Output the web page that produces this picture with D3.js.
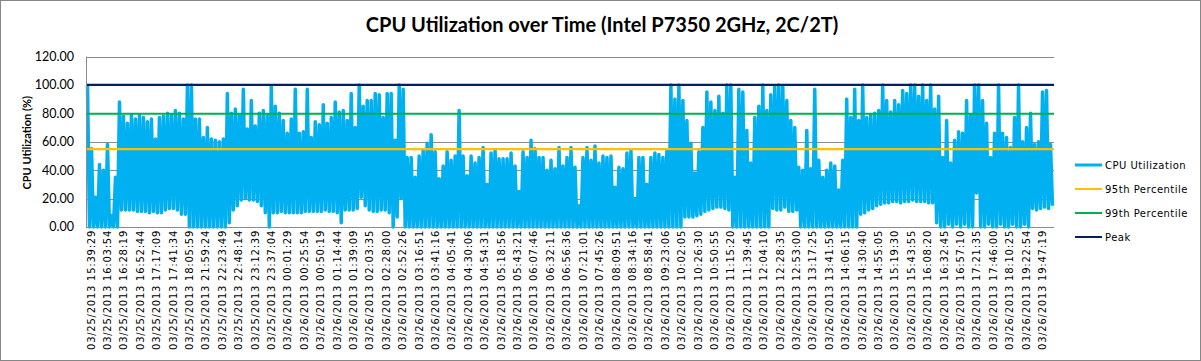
<!DOCTYPE html>
<html>
<head>
<meta charset="utf-8">
<script src="https://cdn.jsdelivr.net/npm/d3@7"></script>
<style>
  body { margin: 0; background: #fff; }
  svg { display: block; }
</style>
</head>
<body>
<div id="chart"></div>
<script>
// tick labels shown on the category axis
var timeLabels = [
    "03/25/2013 15:39:29", "03/25/2013 16:03:54", "03/25/2013 16:28:19", "03/25/2013 16:52:44",
    "03/25/2013 17:17:09", "03/25/2013 17:41:34", "03/25/2013 18:05:59", "03/25/2013 21:59:24",
    "03/25/2013 22:23:49", "03/25/2013 22:48:14", "03/25/2013 23:12:39", "03/25/2013 23:37:04",
    "03/26/2013 00:01:29", "03/26/2013 00:25:54", "03/26/2013 00:50:19", "03/26/2013 01:14:44",
    "03/26/2013 01:39:09", "03/26/2013 02:03:35", "03/26/2013 02:28:00", "03/26/2013 02:52:26",
    "03/26/2013 03:16:51", "03/26/2013 03:41:16", "03/26/2013 04:05:41", "03/26/2013 04:30:06",
    "03/26/2013 04:54:31", "03/26/2013 05:18:56", "03/26/2013 05:43:21", "03/26/2013 06:07:46",
    "03/26/2013 06:32:11", "03/26/2013 06:56:36", "03/26/2013 07:21:01", "03/26/2013 07:45:26",
    "03/26/2013 08:09:51", "03/26/2013 08:34:16", "03/26/2013 08:58:41", "03/26/2013 09:23:06",
    "03/26/2013 10:02:05", "03/26/2013 10:26:30", "03/26/2013 10:50:55", "03/26/2013 11:15:20",
    "03/26/2013 11:39:45", "03/26/2013 12:04:10", "03/26/2013 12:28:35", "03/26/2013 12:53:00",
    "03/26/2013 13:17:25", "03/26/2013 13:41:50", "03/26/2013 14:06:15", "03/26/2013 14:30:40",
    "03/26/2013 14:55:05", "03/26/2013 15:19:30", "03/26/2013 15:43:55", "03/26/2013 16:08:20",
    "03/26/2013 16:32:45", "03/26/2013 16:57:10", "03/26/2013 17:21:35", "03/26/2013 17:46:00",
    "03/26/2013 18:10:25", "03/26/2013 19:22:54", "03/26/2013 19:47:19"
];

var cpuHigh = [
    100, 55, 21, 44, 40, 58, 8, 35,
    88, 78, 73, 79, 76, 79, 77, 74, 76, 62, 77, 78, 80, 79, 82, 80, 76,
    100, 100, 76, 76, 63, 70, 62, 61, 60, 62,
    94, 80, 83, 79, 97, 69, 89, 71, 80, 82,
    79, 99, 85, 80, 75, 66, 76, 97, 66, 67,
    97, 63, 74, 72, 86, 73, 77, 88, 81, 82,
    75, 94, 70, 100, 85, 89, 89, 94, 93, 77,
    94, 94, 61, 100, 97,
    49, 49, 35, 50, 54, 59, 65, 53, 34, 43,
    53, 47, 50, 82, 50, 36, 50, 45, 49, 56,
    30, 52, 54, 48, 48, 48, 52, 43, 25, 53,
    49, 61, 55, 49, 49, 40, 47, 41, 56, 43,
    49, 56, 42, 15, 49, 56, 47, 57, 45, 50,
    49, 50, 28, 42, 41, 52, 54, 20, 49, 49,
    30, 49, 52, 51, 49, 54,
    100, 90, 100, 89, 75, 59, 38, 53, 70, 95,
    88, 82, 92, 80, 100, 100, 35, 97, 95, 68,
    45, 77, 85, 100, 82, 93, 99, 100, 99, 89,
    75, 70, 42, 40, 68, 41, 97, 47, 35, 40,
    45, 43, 26, 47, 90, 77, 97, 75, 100, 77,
    79, 80, 82, 100, 89, 81, 89, 86, 96, 94,
    100, 100, 92, 100, 89, 100, 83, 92, 49, 75,
    45, 61, 67, 66, 89, 79, 100, 100, 89, 73,
    49, 66, 100, 66, 63, 56, 77, 100, 60, 70,
    80, 58, 60, 95, 96, 58
];
var cpuLow = [
    0, 0, 0, 0, 0, 0, 0, 0,
    12, 12, 12, 12, 11, 11, 11, 10, 11, 10, 10, 12, 13, 13, 12, 9, 9,
    0, 0, 0, 0, 0, 0, 0, 0, 0, 0,
    3, 12, 15, 19, 20, 19, 19, 18, 15, 10,
    0, 10, 10, 11, 10, 10, 10, 10, 10, 11,
    11, 11, 11, 11, 12, 11, 11, 10, 3, 12,
    12, 12, 13, 21, 15, 12, 11, 11, 12, 12,
    10, 0, 7, 20, 0,
    0, 0, 0, 0, 0, 0, 0, 0, 0, 0,
    0, 0, 0, 0, 0, 0, 0, 0, 0, 0,
    0, 0, 0, 0, 0, 0, 0, 0, 0, 0,
    0, 0, 0, 0, 0, 0, 0, 0, 0, 0,
    0, 0, 0, 0, 0, 0, 0, 0, 0, 0,
    0, 0, 0, 0, 0, 0, 0, 0, 0, 0,
    0, 0, 0, 0, 0, 0,
    0, 0, 0, 7, 7, 7, 8, 9, 11, 12,
    13, 14, 14, 13, 12, 0, 0, 0, 0, 0,
    0, 0, 0, 0, 0, 13, 12, 12, 14, 11,
    11, 12, 0, 0, 0, 0, 0, 0, 0, 0,
    0, 0, 0, 0, 0, 0, 0, 9, 10, 12,
    13, 15, 16, 17, 17, 18, 18, 17, 18, 18,
    19, 18, 18, 18, 17, 17, 3, 0, 0, 2,
    0, 2, 0, 2, 0, 0, 24, 0, 0, 2,
    0, 0, 2, 0, 0, 2, 0, 0, 2, 0,
    13, 12, 13, 14, 13, 15
];

var p95 = 54.8;
var p99 = 79.7;
var peak = 100;
var yTicks = [0, 20, 40, 60, 80, 100, 120];

var seriesNames = ["CPU Utilization", "95th Percentile", "99th Percentile", "Peak"];
var seriesColours = ["#00b0f0", "#ffc000", "#00b050", "#002060"];

var width = 1201;
var height = 361;
var margin = {top: 56.5, right: 147, bottom: 134, left: 86};

var svg = d3.select("#chart")
    .append("svg")
    .attr("width", width)
    .attr("height", height);

// outer chart border
svg.append("rect")
    .attr("x", 0.5).attr("y", 0.5)
    .attr("width", width - 1).attr("height", height - 1)
    .style("fill", "#fff")
    .style("stroke", "#868686");

var y = d3.scaleLinear()
    .domain([0, 120])
    .range([height - margin.bottom, margin.top]);

// interleave highs and lows into one dense sample list
var samples = [];
cpuHigh.forEach(function(h, i) {
    samples.push(h);
    samples.push(cpuLow[i]);
});

var x = d3.scaleLinear()
    .domain([0, samples.length - 1])
    .range([margin.left + 1.5, width - margin.right - 1.5]);

var xBand = d3.scaleBand()
    .domain(timeLabels)
    .range([margin.left, width - margin.right]);

// gridlines
svg.append("g")
    .selectAll("line")
    .data(yTicks.slice(1))
    .enter().append("line")
    .attr("x1", margin.left)
    .attr("x2", width - margin.right)
    .attr("y1", function(d) { return Math.round(y(d)) + 0.5; })
    .attr("y2", function(d) { return Math.round(y(d)) + 0.5; })
    .style("stroke", "#8c8c8c")
    .style("stroke-width", 1);

// y axis labels
svg.append("g")
    .selectAll("text")
    .data(yTicks)
    .enter().append("text")
    .attr("x", 74)
    .attr("y", function(d) { return y(d); })
    .attr("dy", "0.35em")
    .attr("text-anchor", "end")
    .style("font-family", "Lato, sans-serif")
    .style("font-size", "12.5px")
    .style("fill", "#000")
    .text(function(d) { return d3.format(".2f")(d); });

svg.append("text")
    .attr("transform", "translate(31," + ((margin.top + height - margin.bottom) / 2 + 1) + ") rotate(-90)")
    .attr("text-anchor", "middle")
    .style("font-family", "Lato, sans-serif")
    .style("font-weight", "bold")
    .style("font-size", "11px")
    .text("CPU Utilization  (%)");

// CPU series
var line = d3.line()
    .x(function(d, i) { return x(i); })
    .y(function(d) { return y(d); });

svg.append("path")
    .datum(samples)
    .attr("d", line)
    .style("fill", "none")
    .style("stroke", seriesColours[0])
    .style("stroke-width", 3.5)
    .style("stroke-linejoin", "round");

// axis lines
svg.append("line")
    .attr("x1", margin.left + 0.5).attr("x2", margin.left + 0.5)
    .attr("y1", margin.top).attr("y2", y(0))
    .style("stroke", "#8c8c8c");
svg.append("line")
    .attr("x1", margin.left).attr("x2", width - margin.right)
    .attr("y1", Math.round(y(0)) + 0.5).attr("y2", Math.round(y(0)) + 0.5)
    .style("stroke", "#8c8c8c");

// percentile / peak lines
var refs = [p95, p99, peak];
svg.append("g")
    .selectAll("line")
    .data(refs)
    .enter().append("line")
    .attr("x1", margin.left + 1)
    .attr("x2", width - margin.right)
    .attr("y1", function(d) { return y(d); })
    .attr("y2", function(d) { return y(d); })
    .style("stroke", function(d, i) { return seriesColours[i + 1]; })
    .style("stroke-width", 2.2);

// category labels
svg.append("g")
    .selectAll("text")
    .data(timeLabels)
    .enter().append("text")
    .attr("transform", function(d) {
        return "translate(" + (xBand(d) + 5) + "," + (y(0) + 3) + ") rotate(-90)";
    })
    .attr("dy", "0.35em")
    .attr("text-anchor", "end")
    .style("font-family", "'DejaVu Sans', sans-serif")
    .style("font-size", "10px")
    .style("letter-spacing", "0.75px")
    .style("fill", "#000")
    .text(function(d) { return d; });

// title
svg.append("text")
    .attr("x", 602)
    .attr("y", 32)
    .attr("text-anchor", "middle")
    .style("font-family", "Lato, sans-serif")
    .style("font-weight", "bold")
    .style("font-size", "20px")
    .text("CPU Utilization over Time (Intel P7350 2GHz, 2C/2T)");

// legend
var legend = svg.append("g")
    .selectAll("g")
    .data(seriesNames)
    .enter().append("g")
    .attr("transform", function(d, i) { return "translate(1075," + (165 + i * 24) + ")"; });

legend.append("line")
    .attr("x1", 0).attr("x2", 27)
    .style("stroke", function(d, i) { return seriesColours[i]; })
    .style("stroke-width", function(d, i) { return i === 0 ? 3 : 2; });

legend.append("text")
    .attr("x", 30)
    .attr("dy", "0.35em")
    .style("font-family", "'DejaVu Sans', sans-serif")
    .style("font-size", "10px")
    .style("letter-spacing", "0.5px")
    .text(function(d) { return d; });
</script>
</body>
</html>
